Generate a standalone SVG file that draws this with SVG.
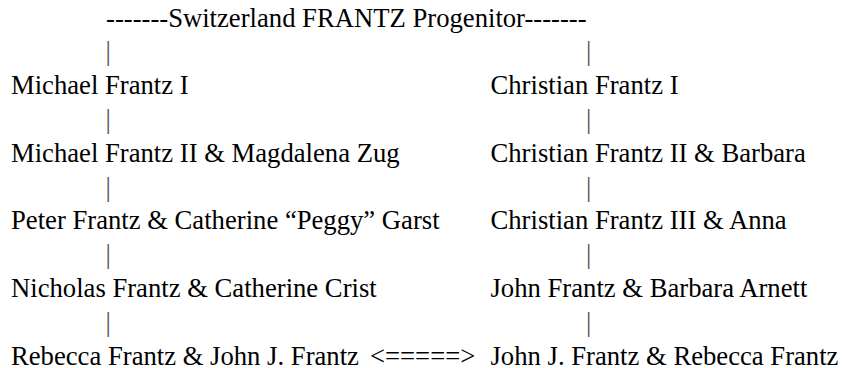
<svg xmlns="http://www.w3.org/2000/svg" width="846" height="368" viewBox="0 0 846 368">
<style>
text{font-family:"Liberation Serif","Times New Roman",serif;font-size:26.67px;fill:#000}
.bar{fill:#555}
</style>
<rect width="846" height="368" fill="#fff"/>
<g id="title"><text x="106" y="27">-------Switzerland FRANTZ Progenitor-------</text></g>
<g id="connectors">
<text class="bar" x="105.5" y="60">|</text>
<text class="bar" x="586" y="60">|</text>
<text class="bar" x="105.5" y="128">|</text>
<text class="bar" x="586" y="128">|</text>
<text class="bar" x="105.5" y="196">|</text>
<text class="bar" x="586" y="196">|</text>
<text class="bar" x="105.5" y="263">|</text>
<text class="bar" x="586" y="263">|</text>
<text class="bar" x="105.5" y="331">|</text>
<text class="bar" x="586" y="331">|</text>
<text x="370" y="365">&lt;=====&gt;</text>
</g>
<g id="michael1"><text x="11" y="94">Michael Frantz I</text></g>
<g id="christian1"><text x="490.5" y="94">Christian Frantz I</text></g>
<g id="michael2"><text x="11" y="162">Michael Frantz II &amp; Magdalena Zug</text></g>
<g id="christian2"><text x="490.5" y="162">Christian Frantz II &amp; Barbara</text></g>
<g id="peter"><text x="11" y="229">Peter Frantz &amp; Catherine “Peggy” Garst</text></g>
<g id="christian3"><text x="490.5" y="229">Christian Frantz III &amp; Anna</text></g>
<g id="nicholas"><text x="11" y="297">Nicholas Frantz &amp; Catherine Crist</text></g>
<g id="john"><text x="490.5" y="297">John Frantz &amp; Barbara Arnett</text></g>
<g id="rebecca"><text x="11" y="365">Rebecca Frantz &amp; John J. Frantz</text></g>
<g id="johnj"><text x="490.5" y="365">John J. Frantz &amp; Rebecca Frantz</text></g>
</svg>
